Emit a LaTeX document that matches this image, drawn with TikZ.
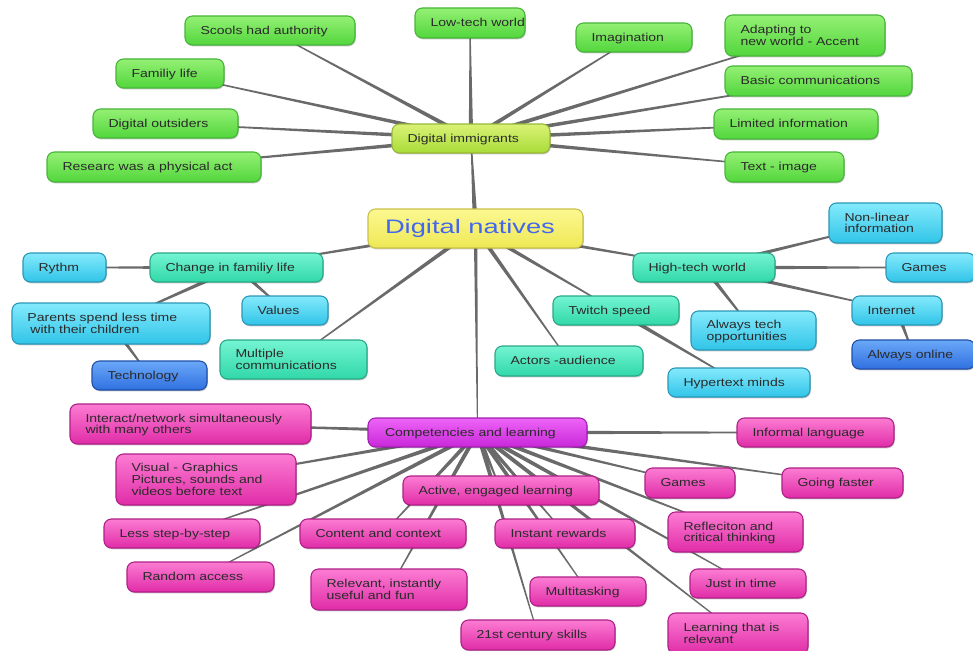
\documentclass[tikz,border=0pt]{standalone}
\usepackage{fontspec}
\setmainfont{Liberation Sans}[FakeStretch=1.22]
\newfontfamily\bigfont{Liberation Sans}[FakeStretch=1.4]
\usetikzlibrary{calc,backgrounds,shadows}
\definecolor{txtc}{HTML}{2A2A2A}
\definecolor{natxt}{HTML}{4466EE}
\definecolor{connc}{HTML}{6A6A6A}
\definecolor{gT}{HTML}{94F074}\definecolor{gD}{HTML}{52D63C}\definecolor{gB}{HTML}{47B53A}
\definecolor{iT}{HTML}{DAF276}\definecolor{iD}{HTML}{A8DC38}\definecolor{iB}{HTML}{98B838}
\definecolor{nT}{HTML}{FCF890}\definecolor{nD}{HTML}{EEE856}\definecolor{nB}{HTML}{C8C24A}
\definecolor{tT}{HTML}{74F4D2}\definecolor{tD}{HTML}{30D8A8}\definecolor{tB}{HTML}{2AA888}
\definecolor{cT}{HTML}{84EAFC}\definecolor{cD}{HTML}{30C4E8}\definecolor{cB}{HTML}{2A98B8}
\definecolor{bT}{HTML}{6AA8F8}\definecolor{bD}{HTML}{3070E0}\definecolor{bB}{HTML}{2050A8}
\definecolor{pT}{HTML}{EE64F8}\definecolor{pD}{HTML}{C828D8}\definecolor{pB}{HTML}{A020B0}
\definecolor{mT}{HTML}{FC7CD2}\definecolor{mD}{HTML}{E02CA8}\definecolor{mB}{HTML}{B02088}
\tikzset{
  mmbox/.style={rounded corners=7.5pt, line width=1.1pt, inner xsep=0pt, inner ysep=0pt,
    outer sep=0pt, text=txtc, font=\fontsize{11.5}{11}\selectfont,
    drop shadow={shadow xshift=0.8pt, shadow yshift=-1.4pt, opacity=0.22, fill=black}},
  gleaf/.style={mmbox, draw=gB, top color=gT, bottom color=gD},
  immig/.style={mmbox, draw=iB, top color=iT, bottom color=iD},
  natives/.style={mmbox, draw=nB, top color=nT, bottom color=nD, text=natxt,
    font=\bigfont\fontsize{19.5}{20}\selectfont},
  teal/.style={mmbox, draw=tB, top color=tT, bottom color=tD},
  cyanbox/.style={mmbox, draw=cB, top color=cT, bottom color=cD},
  dblue/.style={mmbox, draw=bB, top color=bT, bottom color=bD},
  comp/.style={mmbox, draw=pB, top color=pT, bottom color=pD},
  mag/.style={mmbox, draw=mB, top color=mT, bottom color=mD},
  conn/.style={fill=connc}
}
\newcommand\mmtab[1]{\begin{tabular}{@{}l@{}}#1\end{tabular}}
\newcommand\mmnode[8][15.5]{%
  \pgfmathsetmacro\mmcx{(#4+#6)/2}%
  \pgfmathsetmacro\mmcy{(#5+#7)/2}%
  \pgfmathsetmacro\mmw{#6-#4}%
  \pgfmathsetmacro\mmh{#7-#5}%
  \node[#2, minimum height=\mmh pt] (#3) at (\mmcx,\mmcy)
    {\makebox[\mmw pt][l]{\hspace*{#1pt}\vphantom{\mmtab{#8}}\smash{\raisebox{-1.4pt}{\mmtab{#8}}}}};}
\newcommand\taper[3][2.2]{%
  \fill[conn] ($(#2)!#1pt!90:(#3)$) -- ($(#3)!0.45pt!-90:(#2)$)
    -- ($(#3)!0.45pt!90:(#2)$) -- ($(#2)!#1pt!-90:(#3)$) -- cycle;}
\begin{document}
\begin{tikzpicture}[x=1pt,y=-1pt]
\useasboundingbox (0,0) rectangle (973,650);
% central
\mmnode[17]{natives}{nat}{368}{209}{583}{248}{Digital natives}
% digital immigrants cluster
\mmnode{immig}{imm}{392}{124}{550}{153}{Digital immigrants}
\mmnode{gleaf}{sch}{185}{16}{355}{45}{Scools had authority}
\mmnode{gleaf}{low}{415}{8}{525}{38}{Low-tech world}
\mmnode{gleaf}{ima}{576}{23}{692}{52}{Imagination}
\mmnode{gleaf}{ada}{725}{15}{885}{56}{Adapting to\\new world - Accent}
\mmnode{gleaf}{fam}{116}{59}{224}{88}{Familiy life}
\mmnode{gleaf}{bas}{725}{66}{912}{96}{Basic communications}
\mmnode{gleaf}{out}{93}{109}{238}{138}{Digital outsiders}
\mmnode{gleaf}{lim}{714}{109}{878}{139}{Limited information}
\mmnode{gleaf}{res}{47}{152}{261}{182}{Researc was a physical act}
\mmnode{gleaf}{txt}{725}{152}{844}{182}{Text - image}
% middle
\mmnode{teal}{chg}{150}{253}{323}{282}{Change in familiy life}
\mmnode{teal}{mul}{220}{340}{367}{379}{Multiple\\communications}
\mmnode{teal}{hig}{633}{253}{775}{282}{High-tech world}
\mmnode{teal}{twi}{553}{296}{679}{325}{Twitch speed}
\mmnode{teal}{act}{495}{346}{643}{376}{Actors -audience}
\mmnode{cyanbox}{ryt}{23}{253}{106}{282}{Rythm}
\mmnode{cyanbox}{val}{242}{296}{328}{325}{Values}
\mmnode{cyanbox}{par}{12}{303}{210}{344}{Parents spend less time\\\hspace*{0.25em}with their children}
\mmnode{cyanbox}{non}{829}{203}{942}{243}{Non-linear\\information}
\mmnode{cyanbox}{gam}{886}{253}{975}{282}{Games}
\mmnode{cyanbox}{int}{852}{296}{942}{325}{Internet}
\mmnode{cyanbox}{alw}{691}{311}{816}{350}{Always tech\\opportunities}
\mmnode{cyanbox}{hyp}{668}{368}{810}{397}{Hypertext minds}
\mmnode{dblue}{tec}{92}{361}{207}{390}{Technology}
\mmnode{dblue}{onl}{852}{340}{975}{369}{Always online}
% competencies cluster
\mmnode[17]{comp}{cmp}{368}{418}{587}{447}{Competencies and learning}
\mmnode{mag}{itr}{70}{404}{311}{444}{Interact/network simultaneously\\with many others}
\mmnode{mag}{inf}{737}{418}{894}{447}{Informal language}
\mmnode{mag}{vis}{116}{454}{296}{505}{Visual - Graphics\\Pictures, sounds and\\videos before text}
\mmnode{mag}{gmm}{645}{468}{735}{498}{Games}
\mmnode{mag}{gof}{782}{468}{903}{498}{Going faster}
\mmnode{mag}{aen}{403}{476}{599}{505}{Active, engaged learning}
\mmnode{mag}{lss}{104}{519}{260}{548}{Less step-by-step}
\mmnode{mag}{cnt}{300}{519}{466}{548}{Content and context}
\mmnode{mag}{ins}{495}{519}{635}{548}{Instant rewards}
\mmnode{mag}{ref}{668}{512}{803}{552}{Refleciton and\\critical thinking}
\mmnode{mag}{rnd}{127}{562}{274}{592}{Random access}
\mmnode{mag}{rel}{311}{569}{467}{610}{Relevant, instantly\\useful and fun}
\mmnode{mag}{mlt}{530}{577}{646}{606}{Multitasking}
\mmnode{mag}{jit}{690}{569}{806}{598}{Just in time}
\mmnode{mag}{c21}{461}{620}{615}{650}{21st century skills}
\mmnode{mag}{lrn}{668}{613}{808}{654}{Learning that is\\relevant}
\begin{pgfonlayer}{background}
\fill[white] (0,0) rectangle (973,650);
\taper[2.6]{nat}{imm}
\taper{nat}{chg}\taper{nat}{mul}\taper{nat}{hig}\taper{nat}{twi}\taper{nat}{act}
\taper[1.8]{nat}{cmp}
\foreach \n in {sch,low,ima,ada,fam,bas,out,lim,res,txt}{\taper{imm}{\n}}
\taper{chg}{ryt}\taper{chg}{val}\taper{chg}{par}\taper{par}{tec}
\taper{hig}{non}\taper{hig}{gam}\taper{hig}{int}\taper{hig}{alw}\taper{int}{onl}
\taper{twi}{hyp}
\foreach \n in {itr,inf,vis,gmm,gof,aen,lss,cnt,ins,ref,rnd,rel,mlt,jit,c21,lrn}{\taper{cmp}{\n}}
\end{pgfonlayer}
\end{tikzpicture}
\end{document}
